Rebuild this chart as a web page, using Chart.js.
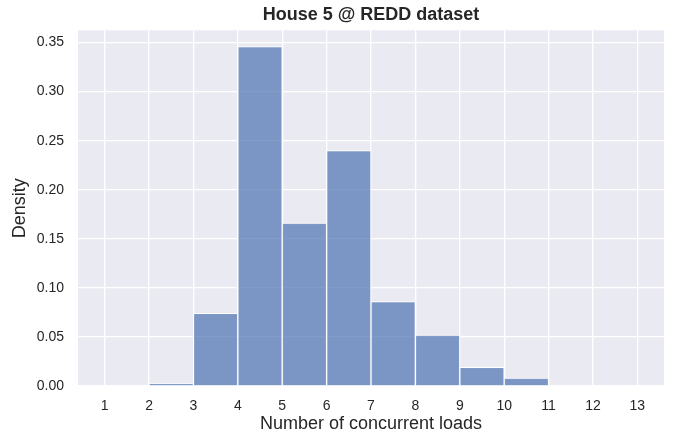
<!DOCTYPE html>
<html>
<head>
<meta charset="utf-8">
<script src="https://cdn.jsdelivr.net/npm/chart.js@4/dist/chart.umd.min.js"></script>
<style>
	html, body { margin: 0; padding: 0; background: #ffffff; }
	#wrap { width: 678px; height: 433px; }
</style>
</head>
<body>
<div id="wrap"><canvas id="hist"></canvas></div>
<script>
// bins of the histogram (number of concurrent loads)
const binEdges = [1, 2, 3, 4, 5, 6, 7, 8, 9, 10, 11, 12, 13];
const density = [0, 0.0025, 0.074, 0.346, 0.166, 0.240, 0.086, 0.052, 0.019, 0.008, 0, 0];

const xTicks = [1, 2, 3, 4, 5, 6, 7, 8, 9, 10, 11, 12, 13];
const yTicks = [0, 0.05, 0.10, 0.15, 0.20, 0.25, 0.30, 0.35];

const textColor = '#262626';
const fontFamily = "'Liberation Sans', Arial, sans-serif";

// fond gris du style seaborn
const plotBackground = {
	id: 'plotBackground',
	beforeDraw(chart)
	{
		const {ctx, chartArea} = chart;
		ctx.save();
		ctx.fillStyle = '#eaeaf2';
		ctx.fillRect(chartArea.left, chartArea.top, chartArea.right - chartArea.left, chartArea.bottom - chartArea.top);
		ctx.restore();
	}
};

const points = density.map((d, i) => ({ x: (binEdges[i] + binEdges[i + 1]) / 2, y: d }));

new Chart(document.getElementById('hist'), {
	type: 'bar',
	data: {
		datasets: [{
			data: points,
			backgroundColor: 'rgba(76, 114, 176, 0.7)',
			borderColor: '#ffffff',
			borderWidth: 1,
			categoryPercentage: 1,
			barPercentage: 1
		}]
	},
	options: {
		responsive: true,
		maintainAspectRatio: false,
		animation: false,
		layout: { padding: { left: 0, right: 14, top: 0, bottom: 0 } },
		plugins: {
			legend: { display: false },
			tooltip: { enabled: false },
			title: {
				display: true,
				fullSize: false,
				text: 'House 5 @ REDD dataset',
				color: textColor,
				font: { family: fontFamily, size: 18, weight: 'bold', lineHeight: 1.2 },
				padding: { top: 4.5, bottom: 4.2 }
			}
		},
		scales: {
			x: {
				type: 'linear',
				offset: false,
				min: 0.4,
				max: 13.6,
				afterBuildTicks: s => { s.ticks = xTicks.map(v => ({ value: v })); },
				afterFit: s => { s.height = 47; },
				grid: { color: '#ffffff', lineWidth: 1.3, drawTicks: false, offset: false },
				border: { display: false },
				ticks: {
					padding: 12,
					color: textColor,
					font: { family: fontFamily, size: 14 }
				},
				title: {
					display: true,
					text: 'Number of concurrent loads',
					color: textColor,
					font: { family: fontFamily, size: 18, lineHeight: 1 },
					padding: 0
				}
			},
			y: {
				min: 0,
				max: 0.3625,
				afterBuildTicks: s => { s.ticks = yTicks.map(v => ({ value: v })); },
				afterFit: s => { s.width = 78; },
				grid: { color: '#ffffff', lineWidth: 1.3, drawTicks: false },
				border: { display: false },
				ticks: {
					padding: 14,
					color: textColor,
					font: { family: fontFamily, size: 14 },
					callback: v => v.toFixed(2)
				},
				title: {
					display: true,
					text: 'Density',
					color: textColor,
					font: { family: fontFamily, size: 18, lineHeight: 1 },
					padding: { top: 11, bottom: 0 }
				}
			}
		}
	},
	plugins: [plotBackground]
});
</script>
</body>
</html>
